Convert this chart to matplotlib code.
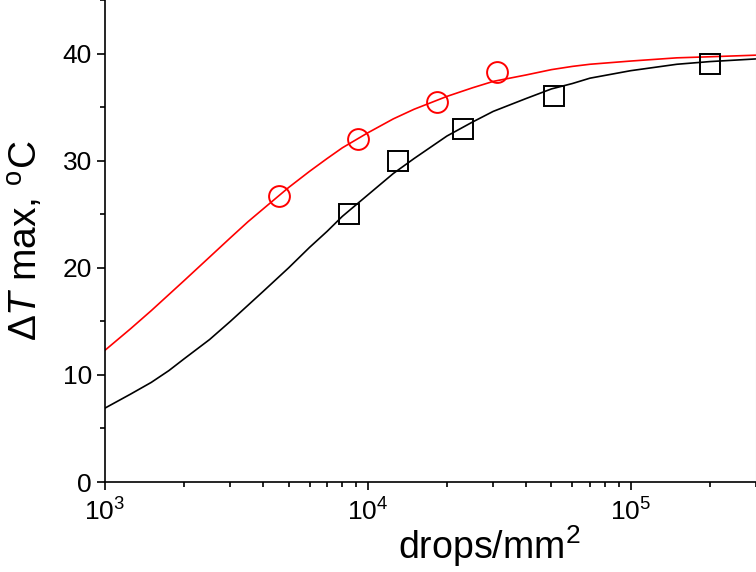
import numpy as np
import matplotlib
matplotlib.use("Agg")
import matplotlib.pyplot as plt
from matplotlib.ticker import LogLocator, MultipleLocator, NullFormatter

plt.rcParams['font.family'] = ['Liberation Sans', 'DejaVu Sans']
plt.rcParams['mathtext.fontset'] = 'custom'
plt.rcParams['mathtext.rm'] = 'Liberation Sans'
plt.rcParams['mathtext.it'] = 'Liberation Sans:italic'

# measured points
sq_x = [8500, 13000, 23000, 51000, 200000]
sq_y = [25.0, 30.0, 33.0, 36.0, 39.0]
ci_x = [4600, 9200, 18400, 31000]
ci_y = [26.7, 32.0, 35.5, 38.3]

# fitted curves
fit_x = [1e3, 1.25e3, 1.5e3, 1.75e3, 2e3, 2.5e3, 3e3, 3.5e3, 4e3, 5e3, 6e3, 7e3, 8e3,
         1e4, 1.25e4, 1.5e4, 2e4, 2.5e4, 3e4, 4e4, 5e4, 6e4, 7e4, 1e5, 1.5e5, 2e5, 3e5]
black_fit = [6.9, 8.2, 9.3, 10.4, 11.5, 13.3, 15.0, 16.5, 17.8, 20.0, 21.9, 23.4, 24.8,
             26.8, 28.8, 30.2, 32.3, 33.6, 34.6, 35.8, 36.7, 37.2, 37.7, 38.4, 39.0, 39.25, 39.5]
red_fit = [12.3, 14.3, 16.0, 17.5, 18.8, 21.0, 22.8, 24.3, 25.5, 27.5, 29.0, 30.2, 31.2,
           32.6, 33.9, 34.8, 36.0, 36.8, 37.4, 38.0, 38.5, 38.8, 39.0, 39.3, 39.6, 39.7, 39.85]

fig = plt.figure(figsize=(7.56, 5.72), dpi=100)
ax = fig.add_axes([105/756, 90/572, 651/756, 482/572])

ax.plot(fit_x, black_fit, color='black', lw=1.2)
ax.plot(fit_x, red_fit, color='red', lw=1.2)
ax.plot(sq_x, sq_y, 's', ms=14, mfc='none', mec='black', mew=1.4)
ax.plot(ci_x, ci_y, 'o', ms=15, mfc='none', mec='red', mew=1.4)

ax.set_xscale('log')
ax.set_xlim(1e3, 3e5)
ax.set_ylim(0, 45)
ax.xaxis.set_major_locator(LogLocator(base=10, numticks=10))
ax.xaxis.set_minor_locator(LogLocator(base=10, subs=np.arange(2, 10), numticks=20))
ax.xaxis.set_minor_formatter(NullFormatter())
ax.yaxis.set_major_locator(MultipleLocator(10))
ax.yaxis.set_minor_locator(MultipleLocator(5))

ax.tick_params(which='major', direction='out', length=6, width=1.2, labelsize=19)
ax.tick_params(which='minor', direction='out', length=3.5, width=1.2)
ax.tick_params(axis='x', which='major', pad=6)

for s in ['left', 'bottom']:
    ax.spines[s].set_linewidth(1.2)
ax.spines['top'].set_visible(False)
ax.spines['right'].set_color('#cccccc')

ax.set_xlabel('drops/mm$^2$', fontsize=27, labelpad=0)
ax.xaxis.set_label_coords(0.59, -0.085)
ax.set_ylabel(r'$\Delta\mathit{T}$ max, $^{\rm o}$C', fontsize=28, labelpad=12)

fig.savefig('out.png', dpi=100)
